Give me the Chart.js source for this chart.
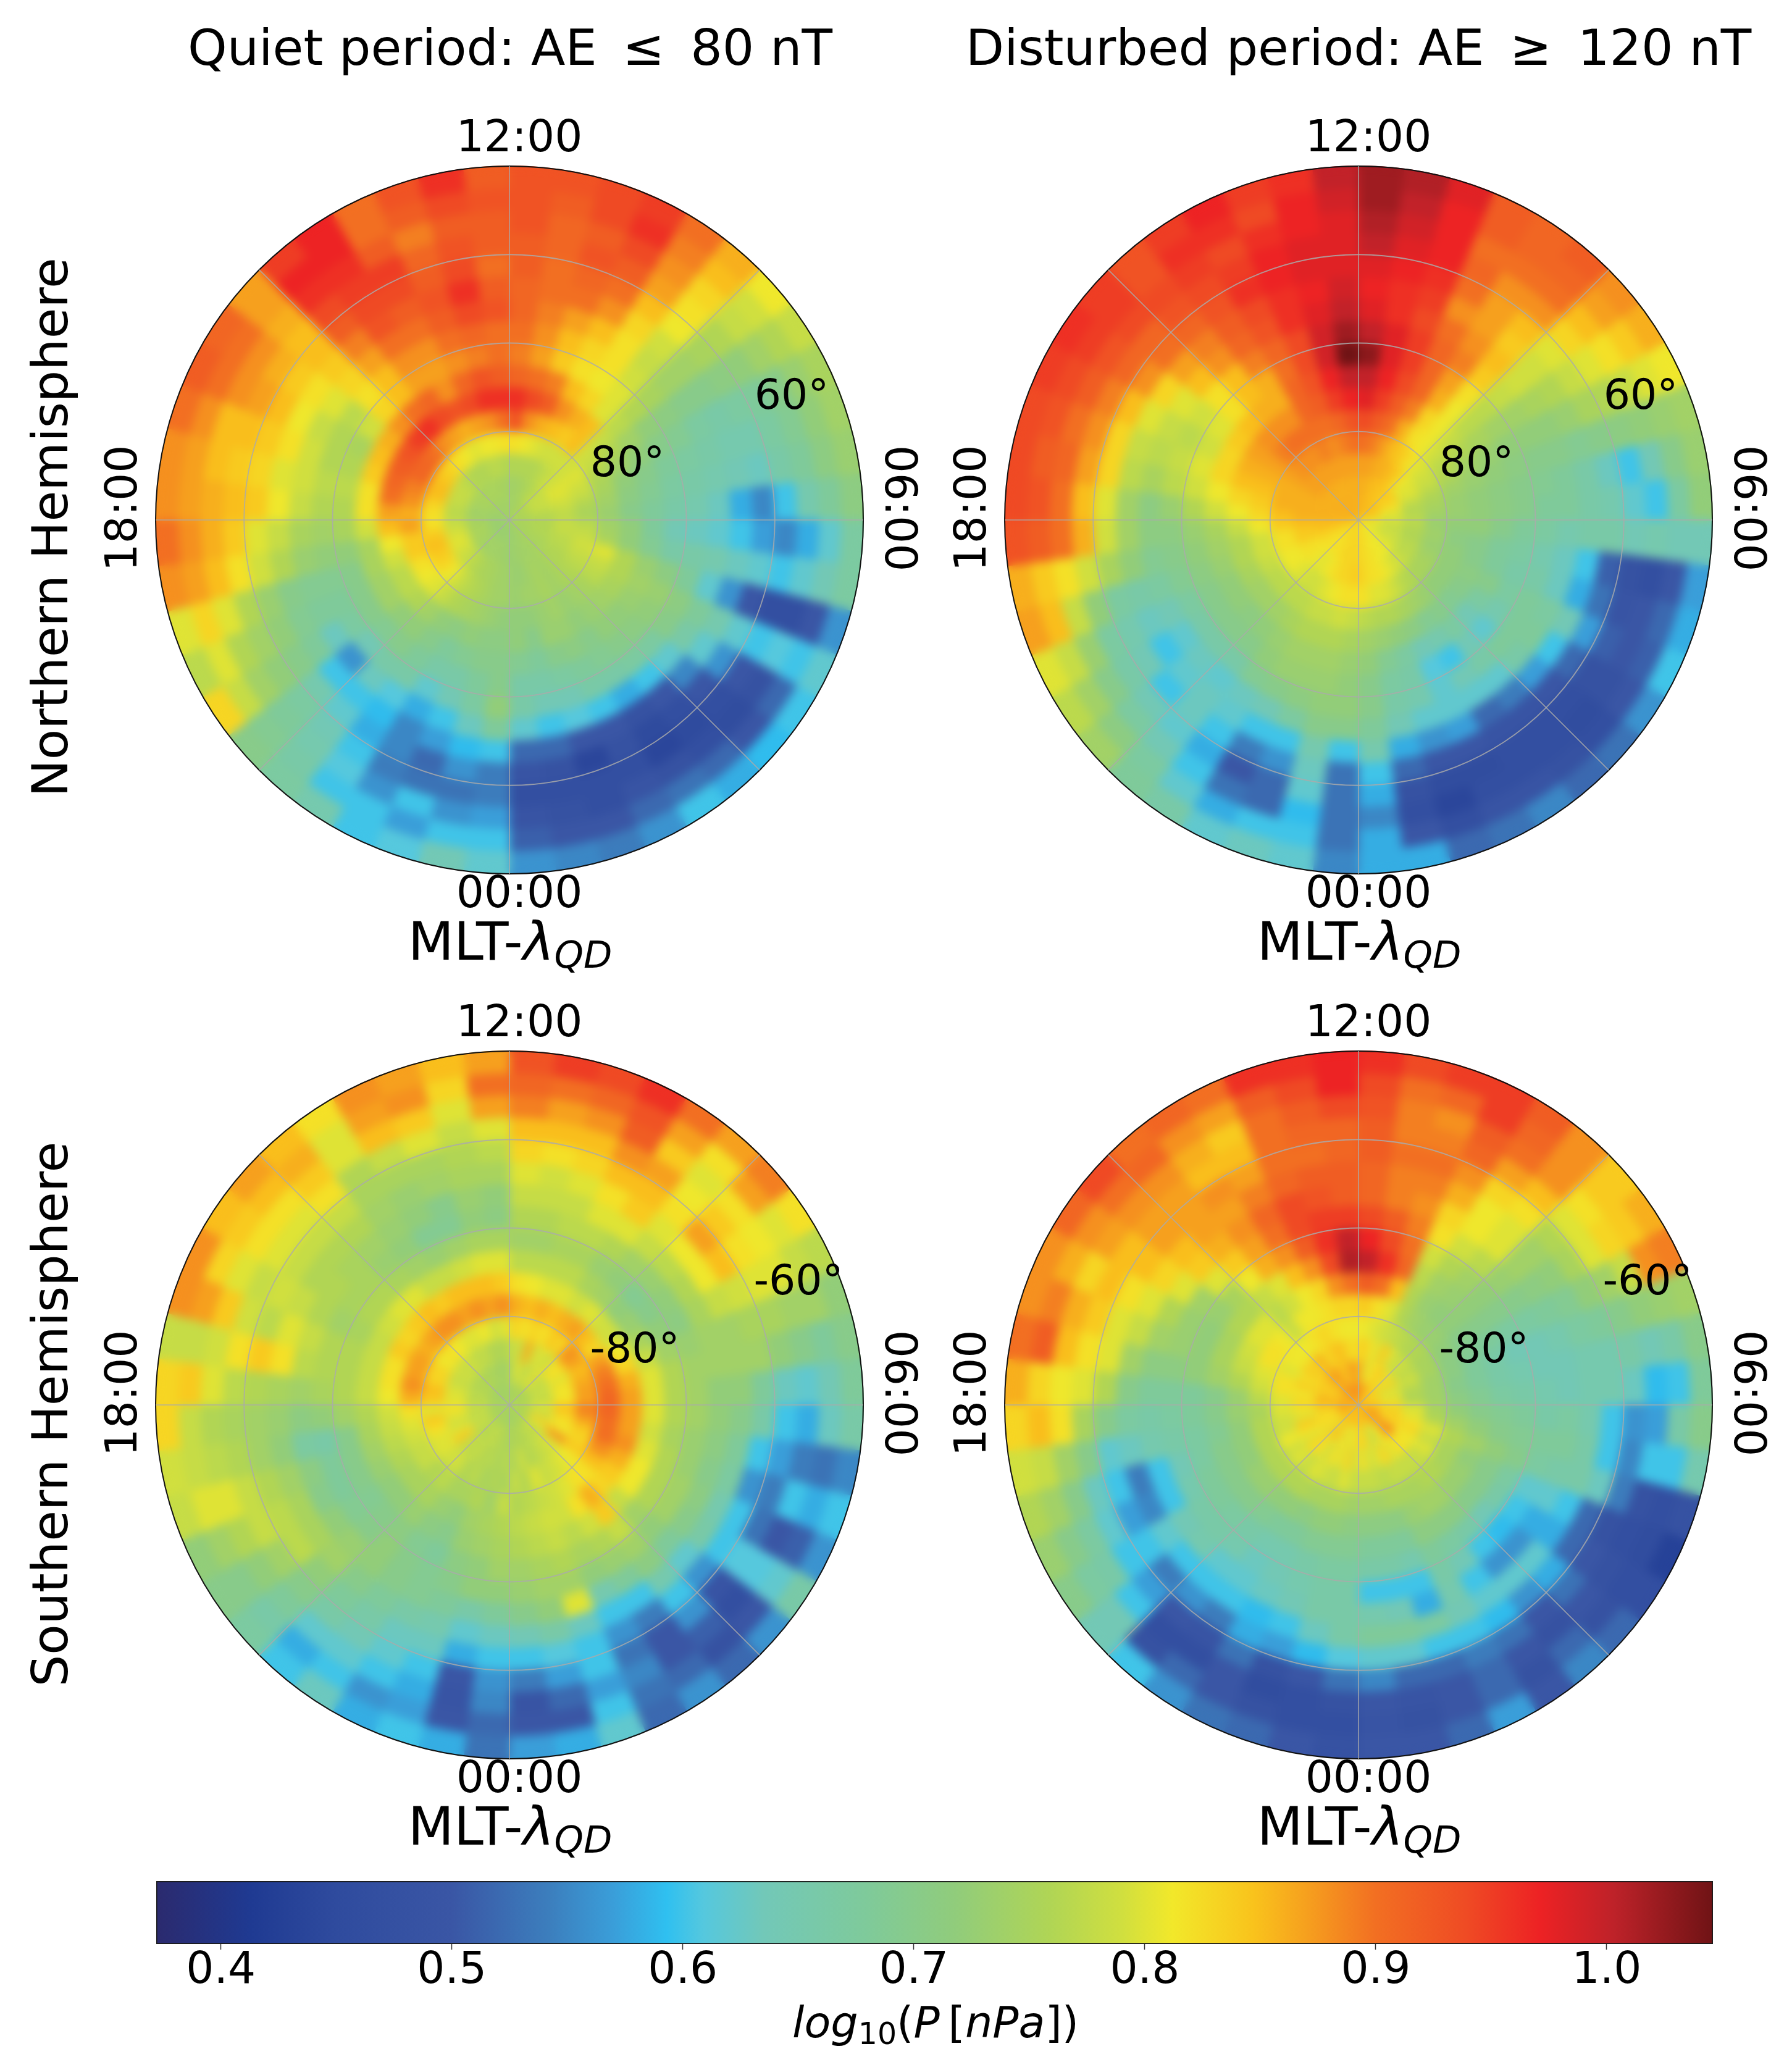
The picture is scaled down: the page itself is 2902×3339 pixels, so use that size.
<!DOCTYPE html>
<html><head><meta charset="utf-8">
<script src="https://cdn.jsdelivr.net/npm/chart.js@4"></script>
<style>
html,body{margin:0;padding:0;background:#fff}
#page{position:relative;width:2902px;height:3339px;overflow:hidden;background:#fff;font-family:"DejaVu Sans";color:#000}
canvas{position:absolute}
canvas.soft{filter:blur(8px)}
.t{position:absolute;white-space:nowrap;line-height:1;transform:translate(-50%,-50%)}
.t.v{transform:translate(-50%,-50%) rotate(-90deg)}
.t.w{transform:translate(-50%,-50%) rotate(90deg)}
sub{font-size:70%;line-height:0;vertical-align:-0.22em}
</style></head><body><div id="page"></div>
<script>
// log10(P[nPa]). One row per half-hour sector, clockwise from 12:00; each row runs from the rim (50 deg) to the pole.
const quietNorth=[
[.93,.93,.93,.92,.92,.91,.91,.90,.89,.91,.96,.93,.82,.76,.74,.74],
[.93,.92,.91,.91,.90,.90,.89,.88,.87,.90,.94,.88,.81,.76,.74,.74],
[.94,.94,.92,.93,.91,.90,.87,.85,.84,.89,.92,.86,.80,.76,.75,.74],
[.95,.96,.94,.92,.90,.88,.85,.83,.82,.85,.88,.85,.79,.76,.75,.74],
[.90,.89,.88,.87,.85,.83,.82,.82,.81,.83,.86,.84,.79,.77,.76,.75],
[.86,.85,.83,.82,.81,.79,.78,.79,.80,.80,.85,.85,.79,.78,.77,.76],
[.81,.79,.78,.76,.75,.74,.74,.75,.76,.77,.78,.79,.79,.79,.78,.76],
[.78,.76,.74,.72,.71,.70,.70,.71,.72,.74,.76,.78,.80,.80,.78,.76],
[.75,.73,.70,.68,.67,.66,.67,.69,.70,.72,.74,.76,.79,.80,.78,.76],
[.74,.72,.69,.67,.65,.65,.66,.67,.68,.70,.72,.75,.78,.79,.78,.76],
[.73,.71,.68,.66,.63,.64,.65,.66,.67,.69,.71,.74,.76,.78,.77,.76],
[.71,.68,.65,.60,.55,.58,.63,.65,.66,.68,.70,.73,.75,.77,.76,.75],
[.67,.62,.58,.55,.57,.60,.62,.63,.64,.68,.72,.74,.77,.78,.76,.75],
[.67,.64,.62,.60,.62,.63,.65,.66,.66,.69,.72,.75,.78,.78,.76,.75],
[.56,.50,.47,.47,.50,.56,.62,.68,.71,.73,.76,.80,.79,.77,.76,.75],
[.62,.60,.61,.60,.62,.65,.68,.71,.73,.74,.76,.78,.78,.77,.76,.75],
[.60,.52,.48,.50,.56,.62,.66,.70,.72,.73,.75,.77,.77,.76,.75,.75],
[.59,.50,.46,.47,.50,.55,.62,.67,.71,.72,.74,.75,.76,.76,.75,.75],
[.58,.52,.47,.45,.47,.50,.60,.67,.70,.72,.73,.74,.75,.75,.75,.75],
[.60,.53,.48,.44,.45,.48,.58,.66,.69,.70,.72,.73,.74,.74,.74,.74],
[.56,.52,.49,.47,.48,.50,.60,.66,.68,.71,.73,.74,.75,.75,.74,.74],
[.54,.50,.47,.47,.44,.50,.61,.64,.67,.70,.73,.73,.74,.74,.74,.74],
[.55,.50,.48,.47,.48,.52,.60,.64,.66,.68,.70,.72,.74,.73,.74,.73],
[.56,.51,.49,.47,.49,.52,.62,.66,.66,.69,.72,.72,.73,.73,.73,.73],
[.62,.60,.57,.54,.54,.60,.68,.72,.70,.70,.71,.72,.74,.74,.73,.73],
[.64,.60,.56,.53,.56,.59,.63,.67,.68,.70,.71,.73,.74,.74,.74,.73],
[.61,.57,.60,.53,.52,.57,.60,.64,.66,.69,.72,.74,.75,.75,.74,.73],
[.60,.60,.56,.54,.55,.55,.58,.62,.66,.68,.71,.75,.76,.75,.74,.73],
[.65,.60,.61,.60,.58,.59,.61,.66,.68,.70,.72,.76,.77,.76,.74,.73],
[.67,.66,.65,.64,.62,.60,.63,.66,.70,.72,.74,.78,.79,.77,.74,.73],
[.70,.69,.68,.67,.65,.60,.56,.64,.69,.72,.76,.80,.81,.78,.74,.73],
[.83,.78,.74,.72,.70,.68,.63,.67,.70,.74,.77,.81,.83,.79,.75,.73],
[.77,.80,.76,.74,.72,.69,.68,.68,.70,.74,.77,.82,.84,.80,.75,.73],
[.80,.83,.80,.76,.73,.70,.69,.69,.70,.75,.79,.84,.85,.80,.75,.73],
[.88,.87,.85,.82,.79,.76,.73,.72,.72,.75,.81,.84,.84,.79,.75,.73],
[.90,.88,.86,.84,.80,.78,.75,.74,.75,.79,.85,.87,.82,.78,.75,.73],
[.88,.87,.86,.85,.84,.81,.78,.76,.76,.82,.87,.86,.82,.77,.74,.73],
[.88,.87,.85,.84,.83,.80,.79,.77,.77,.82,.90,.88,.83,.77,.74,.73],
[.90,.88,.85,.85,.84,.82,.79,.76,.76,.84,.91,.89,.85,.78,.74,.74],
[.92,.90,.88,.87,.85,.81,.78,.76,.75,.85,.92,.91,.85,.78,.75,.74],
[.91,.90,.88,.86,.84,.82,.80,.77,.79,.86,.93,.91,.84,.78,.75,.74],
[.87,.87,.86,.85,.85,.84,.83,.82,.83,.88,.95,.90,.83,.77,.75,.74],
[.95,.97,.96,.94,.92,.89,.87,.85,.85,.90,.96,.88,.82,.76,.75,.74],
[.97,.97,.96,.95,.94,.93,.90,.88,.87,.91,.94,.87,.81,.76,.75,.74],
[.90,.90,.92,.95,.94,.92,.90,.88,.87,.88,.93,.86,.80,.76,.75,.74],
[.93,.92,.89,.91,.92,.93,.92,.90,.88,.91,.94,.87,.81,.77,.75,.74],
[.96,.94,.92,.93,.94,.96,.94,.91,.89,.93,.96,.88,.81,.77,.75,.74],
[.92,.93,.92,.92,.90,.92,.93,.90,.90,.92,.96,.90,.82,.76,.74,.74]];
const disturbedNorth=[
[1.02,1.02,1.01,1.00,.98,.97,.98,1.00,1.03,1.00,.98,.94,.90,.87,.86,.86],
[1.01,1.00,.99,.98,.97,.96,.96,.98,.98,.97,.95,.92,.89,.87,.86,.86],
[.98,.97,.97,.97,.96,.95,.94,.95,.95,.94,.92,.90,.87,.86,.85,.85],
[.92,.92,.90,.91,.90,.88,.90,.91,.91,.91,.89,.86,.85,.86,.85,.85],
[.91,.91,.90,.88,.87,.87,.88,.89,.87,.86,.83,.82,.84,.85,.85,.85],
[.92,.91,.90,.88,.85,.84,.85,.84,.82,.81,.81,.81,.82,.84,.84,.85],
[.88,.87,.85,.83,.80,.79,.79,.78,.77,.77,.78,.79,.80,.81,.84,.85],
[.86,.84,.82,.80,.78,.76,.75,.74,.74,.75,.76,.77,.79,.80,.84,.85],
[.81,.80,.78,.76,.75,.73,.72,.72,.72,.73,.74,.76,.78,.80,.83,.85],
[.74,.73,.72,.71,.70,.69,.70,.70,.71,.72,.73,.74,.76,.78,.82,.85],
[.73,.70,.64,.60,.63,.66,.68,.69,.70,.71,.72,.73,.75,.76,.80,.84],
[.72,.67,.60,.62,.65,.66,.68,.68,.70,.71,.72,.73,.74,.77,.80,.82],
[.64,.64,.65,.64,.66,.66,.65,.67,.68,.70,.72,.72,.73,.77,.79,.81],
[.57,.50,.47,.48,.51,.60,.63,.65,.67,.68,.70,.71,.74,.76,.78,.80],
[.58,.52,.50,.49,.53,.58,.63,.66,.66,.68,.70,.72,.73,.76,.78,.80],
[.60,.51,.50,.51,.57,.64,.67,.68,.67,.70,.71,.72,.74,.77,.79,.80],
[.56,.50,.48,.48,.52,.60,.68,.68,.65,.67,.70,.72,.75,.77,.79,.80],
[.53,.47,.46,.47,.50,.57,.66,.68,.62,.64,.69,.72,.75,.78,.80,.81],
[.52,.48,.47,.47,.49,.54,.62,.66,.64,.67,.70,.73,.76,.79,.81,.81],
[.55,.49,.47,.47,.49,.52,.62,.64,.60,.65,.69,.74,.77,.80,.81,.81],
[.53,.49,.47,.46,.50,.57,.62,.62,.61,.64,.71,.75,.79,.81,.81,.81],
[.52,.47,.44,.46,.50,.56,.62,.65,.66,.67,.72,.76,.80,.82,.82,.82],
[.58,.50,.47,.48,.52,.58,.64,.66,.67,.69,.73,.76,.80,.82,.82,.83],
[.58,.58,.55,.58,.60,.65,.68,.70,.70,.72,.74,.77,.82,.83,.83,.83],
[.55,.53,.53,.53,.53,.60,.70,.72,.72,.73,.75,.78,.82,.84,.83,.83],
[.62,.60,.59,.62,.63,.65,.70,.72,.73,.74,.76,.79,.82,.83,.83,.83],
[.63,.60,.52,.52,.56,.60,.67,.71,.73,.74,.76,.78,.81,.83,.83,.83],
[.62,.58,.53,.50,.54,.60,.64,.70,.73,.74,.76,.78,.80,.82,.83,.83],
[.66,.62,.60,.58,.60,.62,.63,.69,.72,.73,.75,.77,.79,.81,.82,.83],
[.68,.67,.64,.62,.63,.63,.62,.66,.70,.72,.74,.77,.79,.80,.82,.82],
[.74,.71,.67,.64,.60,.62,.63,.66,.70,.71,.74,.77,.80,.81,.82,.82],
[.77,.74,.70,.66,.64,.60,.62,.66,.70,.72,.74,.77,.81,.82,.82,.82],
[.80,.78,.73,.67,.65,.63,.64,.67,.70,.72,.75,.78,.81,.82,.83,.83],
[.87,.85,.78,.72,.67,.66,.67,.69,.71,.73,.76,.79,.82,.84,.84,.84],
[.86,.84,.82,.79,.75,.72,.69,.70,.72,.74,.76,.79,.82,.84,.85,.85],
[.93,.92,.90,.86,.79,.74,.71,.71,.73,.75,.78,.81,.84,.85,.85,.85],
[.94,.93,.90,.85,.80,.74,.71,.73,.76,.79,.81,.83,.85,.86,.86,.86],
[.94,.92,.91,.87,.83,.77,.75,.77,.79,.81,.83,.84,.86,.86,.86,.86],
[.94,.93,.90,.88,.83,.78,.77,.78,.80,.83,.85,.85,.86,.86,.86,.86],
[.95,.94,.92,.89,.85,.80,.78,.77,.79,.83,.86,.86,.86,.86,.86,.86],
[.96,.95,.93,.91,.88,.83,.80,.79,.80,.84,.87,.87,.87,.87,.86,.86],
[.95,.95,.94,.91,.90,.87,.85,.82,.82,.85,.88,.89,.88,.87,.86,.86],
[.93,.93,.94,.93,.91,.89,.88,.85,.85,.86,.88,.90,.88,.87,.86,.86],
[.95,.96,.95,.94,.93,.92,.91,.89,.86,.86,.88,.90,.88,.87,.86,.86],
[.97,.96,.94,.95,.96,.94,.93,.91,.90,.91,.91,.90,.89,.87,.86,.86],
[.95,.94,.96,.97,.97,.96,.96,.94,.94,.93,.92,.90,.88,.87,.86,.86],
[.96,.97,.97,.98,.98,.97,.98,.99,.99,.97,.95,.91,.89,.87,.86,.86],
[1.00,.99,.98,.98,.98,.99,1.00,1.02,1.05,1.00,.97,.93,.90,.87,.86,.86]];
const quietSouth=[
[.93,.91,.89,.85,.83,.80,.78,.76,.74,.77,.82,.86,.83,.79,.77,.75],
[.95,.90,.87,.85,.82,.79,.78,.76,.74,.77,.81,.85,.82,.78,.80,.76],
[.94,.91,.88,.85,.83,.80,.78,.77,.75,.77,.80,.86,.83,.86,.79,.75],
[.96,.93,.92,.88,.85,.82,.80,.77,.75,.77,.80,.85,.82,.79,.77,.75],
[.90,.87,.84,.87,.85,.84,.80,.76,.73,.75,.79,.86,.84,.80,.78,.76],
[.87,.82,.80,.81,.82,.80,.78,.74,.72,.74,.80,.87,.83,.78,.82,.76],
[.89,.87,.82,.84,.87,.81,.77,.73,.69,.72,.79,.85,.88,.82,.77,.75],
[.82,.80,.81,.82,.85,.81,.76,.72,.70,.73,.79,.83,.87,.82,.78,.75],
[.77,.78,.80,.80,.79,.78,.75,.71,.72,.75,.81,.87,.85,.80,.78,.75],
[.72,.74,.74,.75,.75,.74,.74,.73,.74,.78,.83,.89,.86,.82,.78,.76],
[.70,.68,.70,.72,.74,.74,.74,.74,.76,.80,.86,.90,.87,.81,.78,.76],
[.68,.64,.62,.63,.68,.72,.72,.74,.76,.80,.87,.91,.87,.82,.78,.76],
[.66,.63,.58,.60,.66,.70,.72,.74,.76,.80,.87,.91,.89,.85,.80,.76],
[.55,.53,.54,.57,.60,.68,.71,.73,.75,.79,.87,.90,.87,.83,.79,.76],
[.60,.58,.60,.54,.56,.67,.70,.73,.76,.80,.88,.90,.84,.82,.78,.76],
[.56,.51,.50,.53,.60,.65,.71,.74,.76,.81,.86,.88,.83,.81,.84,.76],
[.66,.62,.61,.61,.60,.66,.70,.74,.76,.81,.84,.85,.84,.88,.80,.76],
[.56,.50,.47,.49,.56,.62,.68,.72,.74,.78,.83,.82,.81,.80,.78,.76],
[.52,.48,.51,.56,.60,.65,.71,.74,.78,.84,.86,.82,.80,.79,.78,.76],
[.56,.52,.50,.50,.54,.60,.68,.73,.76,.79,.82,.80,.79,.78,.77,.75],
[.52,.53,.55,.53,.56,.60,.65,.72,.75,.77,.79,.79,.78,.77,.77,.75],
[.62,.60,.57,.60,.60,.63,.80,.74,.76,.78,.79,.78,.80,.76,.76,.75],
[.58,.50,.52,.57,.61,.66,.72,.74,.75,.77,.78,.77,.76,.79,.76,.74],
[.57,.50,.49,.54,.60,.64,.70,.73,.74,.76,.77,.76,.78,.75,.76,.74],
[.53,.52,.55,.56,.60,.63,.68,.72,.74,.75,.76,.78,.75,.77,.74,.74],
[.58,.50,.49,.50,.58,.62,.66,.72,.72,.74,.75,.74,.76,.75,.77,.74],
[.60,.57,.58,.60,.63,.65,.68,.70,.71,.73,.74,.76,.75,.77,.76,.75],
[.58,.56,.60,.62,.63,.66,.69,.69,.68,.70,.72,.75,.77,.76,.78,.75],
[.63,.60,.62,.64,.66,.68,.70,.70,.69,.71,.73,.75,.76,.78,.77,.75],
[.60,.58,.62,.66,.68,.70,.72,.72,.71,.73,.75,.77,.79,.77,.76,.75],
[.67,.66,.68,.70,.72,.74,.73,.70,.70,.72,.75,.76,.79,.78,.77,.75],
[.70,.70,.72,.74,.77,.75,.72,.69,.69,.72,.75,.78,.80,.84,.78,.75],
[.72,.74,.76,.78,.77,.75,.70,.68,.70,.73,.76,.78,.80,.80,.78,.75],
[.78,.80,.80,.78,.76,.74,.71,.68,.70,.74,.77,.79,.82,.79,.77,.75],
[.79,.78,.77,.76,.74,.72,.67,.66,.70,.75,.78,.80,.84,.80,.78,.75],
[.83,.78,.76,.75,.74,.73,.71,.72,.74,.76,.79,.82,.80,.82,.78,.75],
[.83,.84,.80,.77,.76,.75,.74,.75,.76,.78,.81,.86,.84,.80,.77,.75],
[.78,.78,.79,.82,.84,.82,.77,.76,.76,.78,.82,.88,.85,.80,.77,.75],
[.88,.87,.84,.79,.77,.80,.78,.76,.76,.78,.82,.87,.83,.79,.77,.75],
[.88,.83,.80,.78,.79,.78,.76,.74,.75,.78,.84,.87,.83,.78,.76,.75],
[.85,.84,.82,.80,.78,.76,.76,.75,.76,.79,.83,.86,.81,.79,.76,.74],
[.87,.85,.82,.80,.78,.76,.75,.75,.76,.80,.84,.87,.82,.78,.76,.74],
[.85,.86,.84,.82,.78,.76,.74,.73,.75,.80,.85,.88,.81,.79,.76,.74],
[.82,.80,.80,.76,.75,.74,.73,.72,.74,.78,.84,.88,.80,.77,.75,.74],
[.88,.87,.85,.78,.75,.73,.72,.69,.73,.78,.85,.87,.80,.78,.75,.74],
[.87,.88,.84,.80,.75,.74,.70,.69,.74,.79,.85,.88,.81,.76,.75,.74],
[.85,.83,.80,.78,.76,.75,.73,.72,.75,.80,.85,.87,.79,.76,.74,.74],
[.87,.90,.87,.80,.77,.75,.72,.71,.75,.80,.84,.88,.80,.76,.74,.74]];
const disturbedSouth=[
[.96,.94,.93,.92,.92,.91,.91,.94,.97,1.00,.92,.84,.81,.84,.86,.88],
[.94,.90,.89,.89,.90,.89,.89,.92,.94,.96,.90,.82,.80,.82,.80,.88],
[.95,.91,.88,.89,.90,.89,.88,.89,.90,.91,.85,.80,.79,.80,.82,.86],
[.95,.95,.92,.91,.88,.86,.83,.82,.79,.77,.76,.76,.78,.84,.82,.85],
[.92,.91,.90,.87,.83,.81,.81,.79,.76,.74,.73,.74,.77,.80,.85,.84],
[.88,.88,.88,.85,.82,.80,.80,.77,.74,.73,.72,.73,.76,.78,.82,.84],
[.84,.84,.82,.80,.76,.74,.74,.73,.72,.72,.72,.73,.76,.79,.80,.84],
[.86,.84,.83,.80,.75,.72,.71,.70,.70,.70,.70,.72,.75,.77,.84,.83],
[.89,.88,.78,.74,.72,.69,.68,.67,.67,.68,.69,.71,.75,.79,.80,.84],
[.74,.73,.72,.70,.68,.67,.65,.64,.64,.66,.68,.71,.74,.77,.79,.83],
[.70,.66,.64,.66,.65,.65,.64,.64,.65,.66,.68,.70,.74,.76,.82,.83],
[.68,.60,.59,.63,.65,.65,.64,.65,.66,.67,.69,.71,.74,.76,.80,.85],
[.70,.66,.57,.56,.60,.65,.67,.66,.68,.69,.70,.72,.75,.80,.84,.85],
[.65,.60,.60,.55,.60,.66,.68,.68,.69,.70,.72,.74,.76,.80,.82,.84],
[.48,.47,.48,.54,.63,.66,.66,.67,.70,.72,.74,.76,.80,.82,.85,.86],
[.43,.46,.47,.48,.52,.60,.62,.62,.67,.70,.72,.75,.78,.83,.82,.88],
[.47,.47,.48,.50,.52,.58,.58,.60,.66,.70,.73,.75,.80,.81,.86,.88],
[.52,.48,.50,.53,.58,.62,.56,.59,.64,.70,.73,.76,.78,.82,.90,.86],
[.55,.52,.48,.50,.56,.62,.56,.60,.66,.71,.74,.76,.78,.82,.84,.88],
[.50,.48,.50,.53,.59,.62,.60,.64,.67,.71,.74,.75,.78,.80,.82,.85],
[.57,.52,.52,.54,.60,.64,.65,.66,.68,.71,.73,.75,.78,.83,.79,.84],
[.52,.50,.50,.52,.60,.67,.58,.60,.65,.68,.71,.75,.77,.80,.78,.85],
[.50,.48,.49,.52,.62,.68,.64,.60,.66,.68,.71,.74,.78,.79,.82,.84],
[.50,.49,.50,.55,.62,.68,.65,.60,.66,.68,.71,.74,.78,.82,.84,.85],
[.48,.47,.48,.53,.61,.66,.66,.66,.67,.69,.71,.74,.78,.79,.82,.86],
[.50,.47,.47,.50,.59,.63,.66,.66,.67,.69,.72,.75,.80,.83,.80,.85],
[.52,.48,.46,.48,.57,.60,.64,.65,.66,.69,.72,.75,.78,.80,.82,.84],
[.53,.50,.50,.53,.58,.59,.63,.64,.65,.68,.71,.75,.79,.82,.80,.84],
[.56,.52,.47,.49,.54,.60,.62,.63,.65,.68,.72,.76,.80,.79,.84,.86],
[.60,.48,.47,.50,.56,.60,.62,.65,.66,.69,.72,.76,.78,.82,.85,.84],
[.64,.64,.60,.57,.54,.60,.65,.66,.67,.70,.73,.76,.80,.83,.80,.85],
[.70,.67,.66,.60,.60,.62,.64,.66,.68,.70,.73,.76,.79,.80,.83,.84],
[.73,.70,.67,.62,.57,.55,.60,.65,.68,.70,.72,.76,.81,.82,.82,.85],
[.76,.74,.70,.63,.60,.54,.60,.64,.67,.70,.72,.76,.79,.84,.83,.86],
[.79,.78,.74,.70,.62,.63,.65,.66,.67,.69,.72,.76,.79,.80,.82,.88],
[.83,.85,.82,.75,.70,.67,.66,.67,.68,.70,.73,.75,.80,.82,.85,.86],
[.86,.83,.81,.80,.76,.70,.68,.68,.68,.70,.73,.77,.80,.83,.85,.88],
[.90,.92,.85,.82,.80,.74,.71,.71,.72,.74,.76,.79,.82,.81,.86,.85],
[.88,.89,.86,.84,.80,.78,.74,.73,.72,.75,.78,.80,.82,.84,.83,.85],
[.88,.86,.83,.85,.82,.80,.76,.73,.72,.75,.79,.82,.80,.82,.85,.84],
[.91,.88,.87,.85,.85,.83,.80,.74,.73,.76,.80,.82,.81,.84,.83,.87],
[.94,.90,.88,.87,.87,.85,.84,.80,.75,.76,.80,.81,.81,.83,.86,.88],
[.90,.91,.88,.87,.87,.87,.86,.84,.81,.78,.77,.78,.81,.86,.87,.86],
[.91,.88,.86,.85,.88,.87,.88,.87,.86,.80,.79,.81,.82,.83,.87,.88],
[.90,.87,.84,.85,.87,.89,.91,.90,.88,.85,.81,.81,.83,.84,.85,.88],
[.96,.92,.90,.90,.90,.91,.94,.94,.92,.88,.83,.82,.82,.85,.84,.87],
[.96,.94,.92,.91,.90,.92,.93,.95,.96,.94,.88,.83,.81,.83,.88,.88],
[.97,.97,.94,.91,.91,.92,.92,.95,1.00,1.01,.90,.83,.81,.82,.86,.88]];

const hourLabels=["12:00","06:00","00:00","18:00"];
const spokeLabels=["12","09","06","03","00","21","18","15"];
const columnTitles=["Quiet period: AE&thinsp; ≤ &thinsp;80 nT","Disturbed period: AE&thinsp; ≥ &thinsp;120 nT"];
const rowTitles=["Northern Hemisphere","Southern Hemisphere"];
const northRings=["60°","80°"];
const southRings=["-60°","-80°"];
const colorTicks=[0.4,0.5,0.6,0.7,0.8,0.9,1.0];
const colorMin=0.372, colorMax=1.046;
const colorValues=[.372,.413,.45,.50,.542,.57,.593,.609,.635,.68,.717,.759,.79,.812,.847,.87,.90,.939,.971,1.003,1.046];
const colorShades=["#2b2a6e","#1f3a92","#2f4b9e","#3a56a5","#3c7ebd","#3a9ed9","#2fc0f0","#55c8de","#72c8b8","#7fca9a","#90cc7c","#b0d555","#d0df3f","#f2e82a","#f9c31c","#f6a01e","#f26f22","#ef4b24","#ed2224","#be2229","#6f1315"];

const page=document.getElementById('page');
const R=573;
function hex(c){return [1,3,5].map(i=>parseInt(c.substr(i,2),16));}
function shade(v){
  if(v<=colorValues[0])return colorShades[0];
  for(let i=1;i<colorValues.length;i++){
    if(v<=colorValues[i]){
      const f=(v-colorValues[i-1])/(colorValues[i]-colorValues[i-1]);
      const a=hex(colorShades[i-1]),b=hex(colorShades[i]);
      return `rgb(${a.map((x,j)=>Math.round(x+(b[j]-x)*f)).join(',')})`;
    }
  }
  return colorShades[colorShades.length-1];
}
function addText(html,x,y,size,turn){
  const d=document.createElement('div');
  d.className='t'+(turn?' '+turn:'');
  d.style.cssText=`left:${x}px;top:${y}px;font-size:${size}px`;
  d.innerHTML=html;page.appendChild(d);
}
function addCanvas(left,top,w,h){
  const c=document.createElement('canvas');
  c.width=w;c.height=h;c.style.cssText=`left:${left}px;top:${top}px;width:${w}px;height:${h}px`;
  page.appendChild(c);return c;
}
function disc(rows,cx,cy,soft){
  const sectorHours=rows.map(()=>0.5);
  const datasets=[];
  for(let k=0;k<rows[0].length;k++){
    const colors=rows.map(r=>shade(r[k]));
    datasets.push({data:sectorHours,backgroundColor:colors,borderColor:colors,borderWidth:1,borderAlign:'center',spacing:0});
  }
  const c=addCanvas(cx-R-0.5,cy-R-0.5,2*R+1,2*R+1);
  if(soft){c.className='soft';c.style.clipPath=`circle(${R}px at 50% 50%)`;}
  new Chart(c,{type:'doughnut',
    data:{labels:rows.map((_,i)=>String(i)),datasets},
    options:{responsive:false,animation:false,rotation:0,circumference:360,cutout:0,
      layout:{padding:0},events:[],plugins:{legend:{display:false},tooltip:{enabled:false}}}});
}
function panel(rows,cx,cy,rings,ringOffsets){
  disc(rows,cx,cy,false);
  disc(rows,cx,cy,true);
  const pad=4;
  new Chart(addCanvas(cx-R-pad,cy-R-pad,2*R+2*pad,2*R+2*pad),{type:'radar',
    data:{labels:spokeLabels,datasets:[{data:[],pointRadius:0}]},
    options:{responsive:false,animation:false,events:[],layout:{padding:pad},
      plugins:{legend:{display:false},tooltip:{enabled:false}},
      scales:{r:{min:50,max:90,reverse:true,
        ticks:{display:false,stepSize:10},
        pointLabels:{display:false},
        angleLines:{color:'rgba(170,170,170,0.85)',lineWidth:1.6},
        grid:{circular:true,
          color:c=>c.tick.value===50?'#111':'rgba(170,170,170,0.85)',
          lineWidth:c=>c.tick.value===50?2:1.8}}}}});
  addText(hourLabels[0],cx+16,cy-622,71);
  addText(hourLabels[2],cx+16,cy+602,71);
  addText(hourLabels[3],cx-629,cy-19,71,'v');
  addText(hourLabels[1],cx+633,cy-19,71,'w');
  addText(`MLT-<i>λ<sub>QD</sub></i>`,cx+1,cy+682,86);
  addText(rings[0],cx+ringOffsets[0][0],cy+ringOffsets[0][1],68);
  addText(rings[1],cx+ringOffsets[1][0],cy+ringOffsets[1][1],68);
}
const nOff=[[457,-203],[191,-94]], sOff=[[468,-202],[203,-92]];
panel(quietNorth,825,841.5,northRings,nOff);
panel(disturbedNorth,2200,841.5,northRings,nOff);
panel(quietSouth,825,2274.5,southRings,sOff);
panel(disturbedSouth,2200,2274.5,southRings,sOff);

addText(columnTitles[0],826,77,81);
addText(columnTitles[1],2200,77,81);
addText(rowTitles[0],81,854,81,'v');
addText(rowTitles[1],81,2290,81,'v');

new Chart(addCanvas(249,3040,2529,220),{type:'bar',
  data:{labels:['P'],datasets:[{data:[[colorMin,colorMax]],barPercentage:1,categoryPercentage:1,
    borderColor:'#1a1a1a',borderWidth:2,borderSkipped:false,
    backgroundColor:c=>{
      const s=c.chart.scales.x;
      if(!s||!Number.isFinite(s.left)||!Number.isFinite(s.right)||s.right<=s.left)return '#888';
      const g=c.chart.ctx.createLinearGradient(s.left,0,s.right,0);
      colorValues.forEach((v,i)=>g.addColorStop((v-colorMin)/(colorMax-colorMin),colorShades[i]));
      return g;}}]},
  options:{indexAxis:'y',responsive:false,animation:false,events:[],
    layout:{padding:{top:6,left:4,right:4,bottom:0}},
    plugins:{legend:{display:false},tooltip:{enabled:false}},
    scales:{
      y:{display:false},
      x:{type:'linear',min:colorMin,max:colorMax,
        afterBuildTicks:a=>{a.ticks=colorTicks.map(value=>({value}));},
        afterFit:a=>{a.height=112;},
        border:{display:false},
        grid:{drawOnChartArea:false,drawTicks:true,tickLength:9,color:'#333',tickWidth:1.5},
        ticks:{color:'#000',padding:0,maxRotation:0,autoSkip:false,
          font:{family:'DejaVu Sans',size:71,lineHeight:1},callback:v=>v.toFixed(1)}}}}});
addText(`<i>log</i><sub>10</sub>(<i>P</i>&thinsp;[<i>nPa</i>])`,1515,3275,70);
</script></body></html>
